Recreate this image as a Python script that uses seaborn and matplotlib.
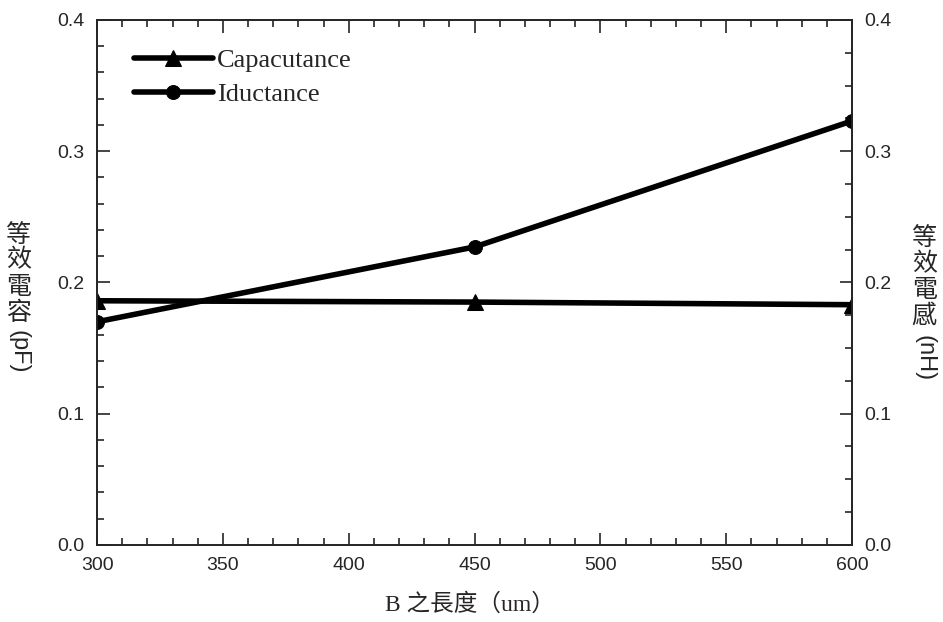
import matplotlib
matplotlib.use("Agg")
import matplotlib.pyplot as plt
from matplotlib.ticker import MultipleLocator, FormatStrFormatter
import seaborn as sns
import pandas as pd

# values
length_um = [300, 450, 600]
capacitance_pF = [0.186, 0.185, 0.183]
inductance_nH = [0.170, 0.227, 0.323]

df = pd.DataFrame({"length": length_um,
                   "cap": capacitance_pF,
                   "ind": inductance_nH})

sns.set_style("ticks")
plt.rcParams['font.family'] = ['Liberation Sans', 'Noto Sans CJK TC', 'DejaVu Sans']

fig = plt.figure(figsize=(9.43, 6.22), dpi=100)
ax = fig.add_axes([0.103, 0.124, 0.8005, 0.844])
ax2 = ax.twinx()

sns.lineplot(data=df, x="length", y="cap", ax=ax, color="black", lw=2.3,
             marker="^", markersize=12, markeredgecolor="black",
             label="Capacutance", legend=False)
sns.lineplot(data=df, x="length", y="ind", ax=ax2, color="black", lw=2.3,
             marker="o", markersize=10, markeredgecolor="black",
             label="Iductance", legend=False)

for a in (ax, ax2):
    a.set_ylim(0, 0.4)
    a.yaxis.set_major_locator(MultipleLocator(0.1))
    a.yaxis.set_major_formatter(FormatStrFormatter("%.1f"))
    a.set_ylabel("")
    for s in a.spines.values():
        s.set_linewidth(1.3)
ax.yaxis.set_minor_locator(MultipleLocator(0.02))
ax2.yaxis.set_minor_locator(MultipleLocator(0.025))

ax.set_xlim(300, 600)
ax.xaxis.set_major_locator(MultipleLocator(50))
ax.xaxis.set_minor_locator(MultipleLocator(10))
ax.set_xlabel("")

ax.tick_params(axis="both", which="both", direction="in", labelsize=14,
               top=True, width=1.2)
ax.tick_params(axis="y", which="both", right=False, pad=9)
ax.tick_params(axis="x", which="both", pad=9)
ax.tick_params(which="major", length=9)
ax.tick_params(which="minor", length=5)
ax2.tick_params(axis="y", which="both", direction="in", labelsize=14,
                width=1.2, pad=9)
ax2.tick_params(which="major", length=9)
ax2.tick_params(which="minor", length=5)

# legend (both series)
h1, l1 = ax.get_legend_handles_labels()
h2, l2 = ax2.get_legend_handles_labels()
for h in h1 + h2:
    h.set_linewidth(4)
ax2.legend(h1 + h2, l1 + l2, loc="upper left", bbox_to_anchor=(0.017, 0.99),
           frameon=False, handlelength=3.0, handletextpad=0.15, labelspacing=0.4,
           prop={"family": "Liberation Serif", "size": 19})

# vertical axis titles: upright CJK, rotated latin
fig.text(0.02, 0.56, "等\n效\n電\n容", ha="center", va="center",
         fontsize=18, family="Noto Sans CJK TC", linespacing=1.0)
fig.text(0.02, 0.435, "(pF)", ha="center", va="center",
         rotation=270, fontsize=17, family="Liberation Sans")
fig.text(0.98, 0.555, "等\n效\n電\n感", ha="center", va="center",
         fontsize=18, family="Noto Sans CJK TC", linespacing=1.0)
fig.text(0.98, 0.425, "(nH)", ha="center", va="center",
         rotation=270, fontsize=17, family="Liberation Sans")

fig.text(0.498, 0.028, "B 之長度（um）", ha="center", va="center",
         fontsize=17, family=["Liberation Serif", "Noto Sans CJK TC"])

fig.savefig("out.png", dpi=100)
